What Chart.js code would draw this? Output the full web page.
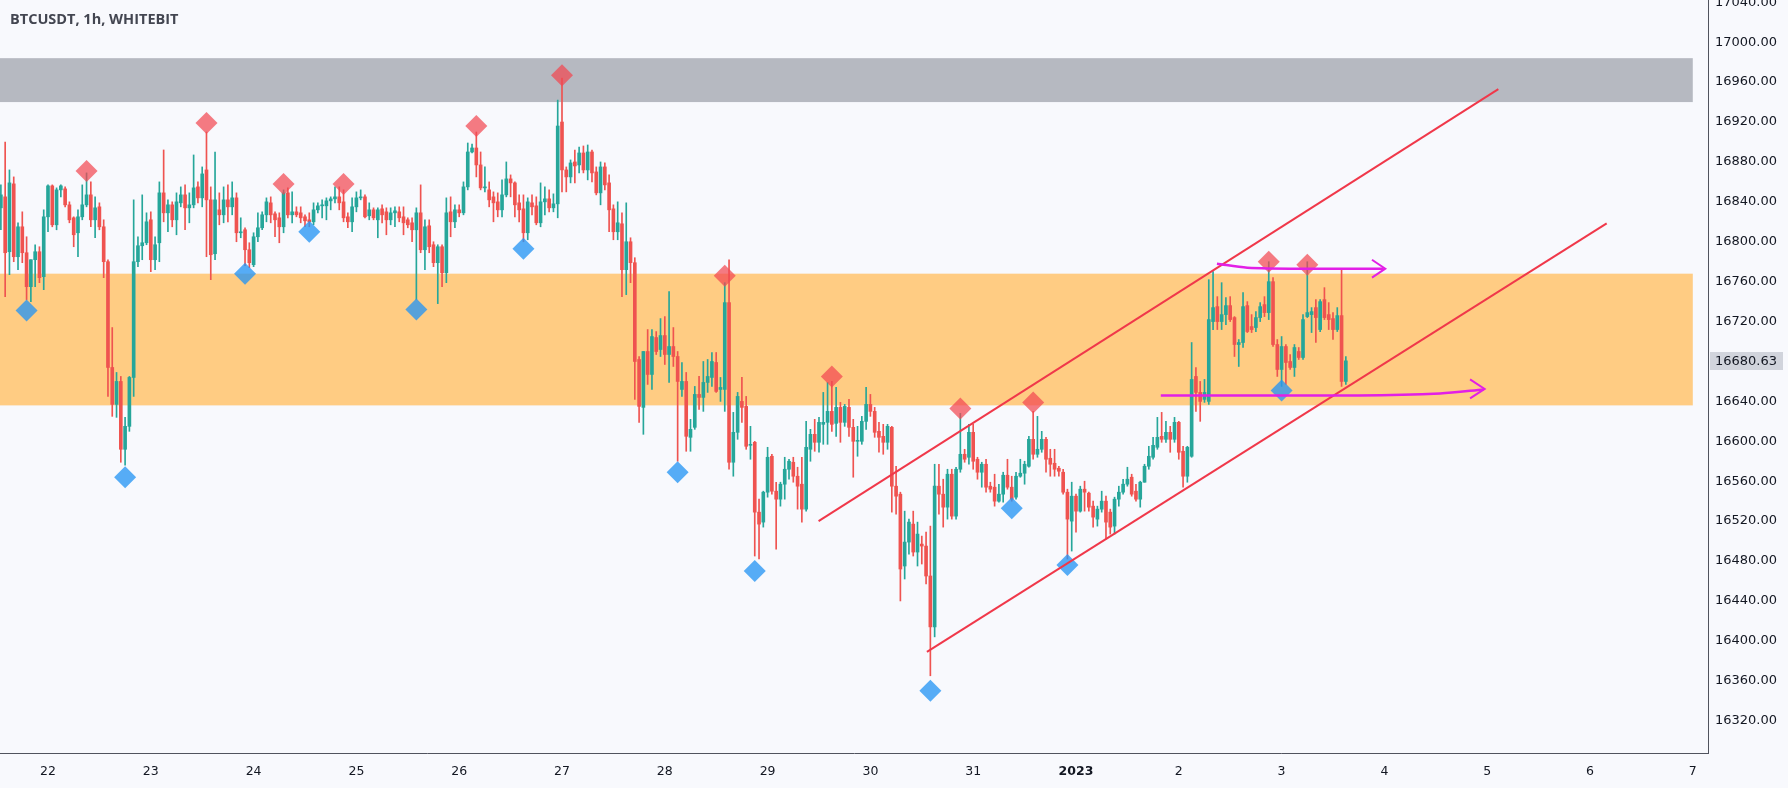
<!DOCTYPE html>
<html>
<head>
<meta charset="utf-8">
<title>BTCUSDT 1h</title>
<script src="https://cdn.jsdelivr.net/npm/chart.js@4.4.0/dist/chart.umd.min.js"></script>
<style>
  html, body { margin: 0; padding: 0; background: #f8f9fd; }
  #wrap { position: relative; width: 1788px; height: 788px; }
  #title {
    position: absolute; left: 10px; top: 9px;
    font: 700 14.5px 'Open Sans', sans-serif; color: #434651;
  }
</style>
</head>
<body>
<div id="wrap">
  <canvas id="chart" width="1788" height="788"></canvas>
  <div id="title">BTCUSDT, 1h, WHITEBIT</div>
</div>
<script>
// ─── Data (hour index 0 = 22 Dec 00:00) ──────────────────────
const firstHour = -11;

const opens = [
  16834,16845,16790,16858,16785,16815,16789,16755,16782,16790,16765,
  16825,16856,16817,16852,16853,16837,16824,16809,16825,16837,16847,16822,16835,16815,16780,16674,16637,16660,16592,16615,16664,16780,16796,16799,
  16822,16782,16799,16849,16829,16837,16822,16839,16847,16834,16837,16855,16844,16872,16842,16788,16832,16827,16842,16835,16844,16809,16812,16792,
  16777,16805,16814,16827,16839,16828,16824,16815,16849,16827,16830,16829,16825,16822,16820,16832,16836,16836,16841,16843,16845,16840,16825,16820,
  16835,16844,16845,16826,16832,16822,16833,16830,16822,16829,16830,16825,16822,16819,16812,16829,16792,16816,16797,16779,16795,16769,16830,16820,
  16832,16829,16855,16890,16894,16877,16854,16852,16845,16840,16832,16847,16863,16859,16839,16833,16809,16839,16836,16819,16840,16843,16834,16838,
  16920,16872,16865,16880,16877,16889,16872,16890,16870,16849,16875,16859,16833,16810,16818,16772,16800,16779,16682,16634,16690,16667,16704,16692,
  16706,16687,16695,16685,16652,16660,16604,16614,16647,16644,16659,16664,16679,16652,16652,16739,16579,16609,16640,16635,16596,16599,16529,16519,
  16549,16585,16550,16542,16557,16572,16579,16565,16557,16532,16592,16607,16599,16617,16619,16630,16618,16634,16619,16634,16614,16600,16600,16620,
  16637,16630,16610,16605,16599,16614,16555,16547,16475,16499,16517,16489,16497,16495,16465,16414,16555,16547,16534,16567,16525,16572,16587,16584,
  16609,16582,16569,16577,16555,16554,16540,16547,16566,16554,16544,16565,16568,16575,16602,16587,16592,16602,16583,16578,16573,16569,16549,16520,
  16545,16530,16552,16548,16535,16522,16532,16540,16529,16515,16542,16549,16557,16564,16550,16542,16559,16575,16584,16594,16605,16602,16609,16602,
  16619,16590,16565,16585,16665,16649,16642,16640,16720,16735,16720,16727,16736,16724,16697,16699,16736,16715,16714,16724,16737,16729,16760,16697,
  16672,16695,16680,16674,16690,16684,16725,16727,16734,16712,16742,16727,16723,16712,16726,16660
];
const highs = [
  16857,16900,16872,16865,16819,16830,16805,16782,16797,16795,16832,
  16857,16857,16854,16857,16855,16840,16825,16832,16857,16869,16860,16845,16839,16822,16782,16714,16669,16665,16624,16665,16842,16805,16847,16829,
  16830,16805,16860,16892,16842,16840,16849,16855,16857,16849,16887,16860,16875,16910,16855,16890,16849,16855,16857,16860,16849,16824,16814,16799,
  16809,16829,16830,16844,16845,16830,16829,16852,16854,16850,16835,16835,16827,16829,16839,16839,16842,16844,16845,16855,16855,16852,16829,16844,
  16850,16852,16847,16839,16834,16834,16837,16834,16834,16835,16835,16835,16824,16824,16834,16857,16822,16822,16800,16797,16797,16844,16845,16837,
  16837,16860,16899,16898,16910,16890,16875,16860,16850,16849,16862,16880,16867,16860,16847,16847,16844,16847,16845,16859,16855,16852,16848,16942,
  16964,16875,16882,16892,16895,16896,16897,16892,16875,16880,16879,16867,16837,16840,16829,16839,16804,16784,16685,16690,16712,16712,16710,16723,
  16725,16750,16714,16690,16679,16669,16622,16655,16665,16680,16682,16689,16689,16664,16759,16782,16629,16649,16664,16645,16615,16600,16542,16550,
  16594,16587,16559,16559,16584,16582,16584,16574,16584,16620,16612,16622,16624,16649,16659,16660,16654,16639,16637,16642,16622,16615,16625,16654,
  16647,16634,16619,16617,16617,16615,16575,16549,16530,16522,16530,16519,16505,16509,16515,16577,16577,16562,16572,16572,16574,16628,16592,16617,
  16617,16584,16579,16582,16559,16567,16557,16569,16582,16565,16569,16582,16580,16605,16630,16625,16610,16604,16592,16592,16575,16572,16552,16559,
  16547,16555,16560,16549,16540,16535,16550,16545,16532,16544,16555,16562,16574,16567,16557,16560,16577,16595,16604,16624,16629,16620,16615,16624,
  16620,16595,16595,16699,16674,16660,16662,16762,16770,16745,16759,16744,16745,16725,16702,16749,16740,16727,16730,16739,16745,16780,16764,16702,
  16705,16697,16687,16697,16694,16727,16780,16734,16742,16742,16754,16739,16729,16734,16772,16685
];
const lows = [
  16812,16745,16767,16780,16772,16779,16742,16740,16755,16759,16752,
  16810,16815,16812,16845,16835,16819,16795,16785,16822,16835,16815,16804,16812,16764,16645,16625,16624,16579,16576,16610,16645,16775,16782,16797,
  16770,16772,16780,16820,16810,16815,16807,16835,16812,16819,16834,16839,16835,16785,16762,16782,16817,16819,16820,16827,16800,16804,16776,16774,
  16775,16800,16812,16820,16819,16805,16799,16809,16824,16819,16825,16819,16815,16815,16817,16829,16824,16822,16832,16839,16832,16820,16814,16810,
  16830,16842,16824,16822,16822,16804,16819,16807,16817,16815,16820,16807,16814,16800,16742,16789,16772,16789,16775,16738,16755,16759,16805,16814,
  16825,16827,16852,16889,16865,16852,16850,16835,16820,16825,16825,16845,16845,16825,16820,16800,16802,16827,16817,16815,16827,16830,16830,16824,
  16850,16850,16859,16859,16869,16869,16862,16860,16847,16837,16852,16810,16802,16802,16745,16747,16759,16642,16619,16607,16657,16652,16687,16685,
  16677,16659,16675,16580,16645,16590,16590,16612,16632,16630,16649,16655,16649,16640,16630,16572,16565,16602,16619,16592,16582,16485,16482,16514,
  16544,16547,16492,16535,16542,16562,16559,16532,16519,16530,16580,16590,16589,16597,16597,16610,16605,16599,16615,16605,16564,16585,16597,16612,
  16625,16604,16589,16587,16592,16529,16527,16440,16462,16487,16485,16475,16477,16457,16365,16404,16527,16514,16522,16522,16522,16569,16579,16577,
  16572,16562,16554,16549,16549,16535,16539,16539,16552,16540,16542,16564,16557,16574,16582,16584,16589,16569,16565,16565,16565,16547,16482,16490,
  16509,16529,16530,16530,16514,16515,16529,16502,16507,16507,16535,16547,16555,16545,16540,16534,16559,16572,16582,16592,16599,16599,16589,16599,
  16582,16554,16559,16584,16630,16620,16639,16637,16712,16712,16712,16717,16720,16685,16675,16694,16709,16709,16710,16720,16725,16722,16695,16665,
  16655,16657,16672,16665,16682,16682,16724,16709,16699,16710,16722,16712,16702,16710,16655,16657
];
const closes = [
  16847,16789,16859,16785,16815,16789,16755,16782,16790,16764,16825,
  16856,16817,16852,16856,16837,16822,16807,16825,16837,16847,16822,16834,16815,16780,16674,16637,16660,16592,16615,16664,16780,16796,16799,16820,
  16782,16797,16849,16829,16837,16822,16840,16847,16834,16837,16854,16844,16868,16842,16787,16842,16827,16842,16835,16844,16809,16810,16792,16779,
  16805,16814,16827,16840,16827,16822,16815,16849,16827,16830,16827,16824,16821,16820,16832,16836,16837,16841,16843,16845,16839,16824,16820,16835,
  16844,16845,16825,16832,16824,16832,16827,16822,16829,16831,16824,16819,16817,16812,16829,16792,16815,16795,16779,16795,16769,16829,16820,16832,
  16829,16855,16890,16894,16877,16854,16855,16842,16839,16832,16847,16863,16859,16837,16832,16809,16840,16835,16819,16840,16843,16834,16838,16916,
  16872,16865,16879,16876,16889,16872,16890,16869,16849,16875,16857,16832,16810,16819,16772,16800,16779,16680,16635,16690,16667,16705,16690,16706,
  16687,16695,16685,16660,16660,16605,16612,16647,16644,16659,16665,16680,16650,16654,16739,16579,16609,16645,16634,16595,16597,16529,16517,16549,
  16584,16550,16542,16557,16572,16580,16565,16555,16532,16594,16607,16599,16619,16619,16630,16617,16634,16619,16635,16614,16600,16601,16620,16637,
  16630,16609,16604,16599,16615,16555,16545,16472,16499,16519,16489,16507,16495,16465,16414,16555,16547,16534,16567,16525,16572,16587,16582,16609,
  16580,16569,16577,16554,16552,16540,16547,16566,16554,16542,16565,16568,16577,16602,16587,16592,16602,16582,16577,16572,16570,16549,16522,16545,
  16530,16552,16549,16534,16524,16532,16540,16519,16514,16542,16549,16557,16562,16547,16542,16559,16575,16585,16596,16604,16602,16609,16602,16619,
  16589,16565,16594,16662,16649,16640,16649,16722,16734,16720,16727,16736,16722,16697,16699,16735,16710,16712,16724,16735,16729,16760,16697,16672,
  16695,16679,16674,16694,16684,16722,16729,16730,16724,16740,16724,16722,16712,16726,16660,16680.63
];

// pivot markers
const pivotHighHours  = [9, 37, 55, 69, 100, 120, 158, 183, 213, 230, 285, 294];
const pivotHighPrices = [16871, 16919, 16858, 16858, 16916, 16967, 16766, 16665, 16633, 16639, 16780, 16777];
const pivotLowHours   = [-5, 18, 46, 61, 86, 111, 147, 165, 206, 225, 238, 288];
const pivotLowPrices  = [16731, 16564, 16768, 16810, 16732, 16793, 16569, 16470, 16350, 16533, 16476, 16651];

// zones
const zoneLows  = [16940, 16636];
const zoneHighs = [16984, 16768];
const zoneFromHour = -12;
const zoneToHour = 384;

// drawn lines
const channelTopHours    = [179.9, 338.6];
const channelTopPrices   = [16520, 16953];
const channelBottomHours = [205.2, 363.9];
const channelBottomPrices= [16389, 16818.5];
const rangeTopHours      = [272.9, 280, 295, 311.8];
const rangeTopPrices     = [16778, 16774, 16773, 16773];
const rangeTopArrowHours = [309.1, 312.2, 309.1];
const rangeTopArrowPrices= [16782, 16773, 16764];
const rangeBotHours      = [259.8, 306, 325, 335.2];
const rangeBotPrices     = [16646, 16646, 16648, 16652];
const rangeBotArrowHours = [332, 335.4, 332];
const rangeBotArrowPrices= [16662, 16652.5, 16643];

// axes
const dayHours  = [0, 24, 48, 72, 96, 120, 144, 168, 192, 216, 240, 264, 288, 312, 336, 360, 384];
const dayLabels = ['22','23','24','25','26','27','28','29','30','31','2023','2','3','4','5','6','7'];
const priceTicks = [16320,16360,16400,16440,16480,16520,16560,16600,16640,16680,16720,16760,16800,16840,16880,16920,16960,17000,17040];
const X_MIN = -11.206, X_MAX = 387.55;
const Y_MIN = 16287.6, Y_MAX = 17042.3;

// ─── Styles ──────────────────────────────────────────────
const UP = '#26a69a', DOWN = '#ef5350';
const AXIS_COLOR = '#50535e';
const TEXT_COLOR = '#131722';
const FONT = "'DejaVu Sans', Verdana, sans-serif";
const ZONE_COLORS = ['rgba(178,181,190,0.95)', 'rgba(255,200,120,0.92)'];

const hours = opens.map((_, i) => firstHour + i);
const isUp = opens.map((o, i) => closes[i] >= o);
const candleColors = isUp.map(u => u ? UP : DOWN);
const toPts = (hs, ps) => hs.map((h, i) => ({ x: h, y: ps[i] }));

const zonesPlugin = {
  id: 'zones',
  beforeDatasetsDraw(chart) {
    const { ctx, chartArea: a, scales: { x, y } } = chart;
    ctx.save();
    ctx.beginPath();
    ctx.rect(a.left, a.top, a.width, a.height);
    ctx.clip();
    zoneLows.forEach((lo, i) => {
      const x0 = x.getPixelForValue(zoneFromHour), x1 = x.getPixelForValue(zoneToHour);
      const y0 = y.getPixelForValue(zoneHighs[i]), y1 = y.getPixelForValue(lo);
      ctx.fillStyle = ZONE_COLORS[i];
      ctx.fillRect(x0, y0, x1 - x0, y1 - y0);
    });
    ctx.restore();
  }
};

const priceTagPlugin = {
  id: 'priceTag',
  afterDraw(chart) {
    const { ctx, scales: { y } } = chart;
    const last = closes[closes.length - 1];
    const py = Math.round(y.getPixelForValue(last));
    ctx.save();
    ctx.fillStyle = '#d1d4dc';
    ctx.fillRect(y.left + 2, py - 9, 73, 18);
    ctx.fillStyle = TEXT_COLOR;
    ctx.font = '13px ' + FONT;
    ctx.textBaseline = 'middle';
    ctx.textAlign = 'left';
    ctx.fillText(last.toFixed(2), y.left + 7, py + 0.5);
    ctx.restore();
  }
};

const lineDs = (hs, ps, color, width, tension, order) => ({
  type: 'line',
  data: toPts(hs, ps),
  borderColor: color,
  borderWidth: width,
  pointRadius: 0,
  fill: false,
  tension,
  order,
});

new Chart(document.getElementById('chart'), {
  type: 'bar',
  data: {
    datasets: [
      {
        label: 'wick',
        data: hours.map((h, i) => ({ x: h, y: [lows[i], highs[i]] })),
        backgroundColor: candleColors,
        barThickness: 1,
        grouped: false,
        order: 6,
      },
      {
        label: 'body',
        data: hours.map((h, i) => ({ x: h, y: [Math.min(opens[i], closes[i]), Math.max(opens[i], closes[i])] })),
        backgroundColor: candleColors,
        barThickness: 3,
        minBarLength: 1,
        grouped: false,
        order: 5,
      },
      {
        type: 'scatter',
        data: toPts(pivotHighHours, pivotHighPrices),
        pointStyle: 'rectRot',
        pointRadius: 11,
        backgroundColor: 'rgba(242,72,82,0.72)',
        borderWidth: 0,
        order: 4,
      },
      {
        type: 'scatter',
        data: toPts(pivotLowHours, pivotLowPrices),
        pointStyle: 'rectRot',
        pointRadius: 11,
        backgroundColor: 'rgba(40,150,243,0.78)',
        borderWidth: 0,
        order: 3,
      },
      lineDs(channelTopHours, channelTopPrices, '#f0384a', 2, 0, 2),
      lineDs(channelBottomHours, channelBottomPrices, '#f0384a', 2, 0, 2),
      lineDs(rangeTopHours, rangeTopPrices, '#e21fe6', 2.5, 0.3, 1),
      lineDs(rangeTopArrowHours, rangeTopArrowPrices, '#e21fe6', 2, 0, 1),
      lineDs(rangeBotHours, rangeBotPrices, '#e21fe6', 2.5, 0.3, 1),
      lineDs(rangeBotArrowHours, rangeBotArrowPrices, '#e21fe6', 2, 0, 1),
    ],
  },
  options: {
    responsive: false,
    animation: false,
    devicePixelRatio: 1,
    events: [],
    layout: { padding: 0, autoPadding: false },
    plugins: { legend: { display: false }, tooltip: { enabled: false } },
    scales: {
      x: {
        type: 'linear',
        offset: false,
        min: X_MIN,
        max: X_MAX,
        grid: { display: false, drawTicks: false, offset: false },
        border: { display: true, color: AXIS_COLOR, width: 1 },
        afterBuildTicks: s => { s.ticks = dayHours.map(v => ({ value: v })); },
        afterFit: s => { s.height = 35; s.paddingLeft = 0; s.paddingRight = 0; },
        ticks: {
          autoSkip: false,
          maxRotation: 0,
          padding: 11,
          color: TEXT_COLOR,
          font: c => ({ family: FONT, size: 12.5, weight: dayLabels[c.index] === '2023' ? 'bold' : 'normal' }),
          callback: (v, i) => dayLabels[i],
        },
      },
      y: {
        position: 'right',
        min: Y_MIN,
        max: Y_MAX,
        grid: { display: false, drawTicks: false },
        border: { display: true, color: AXIS_COLOR, width: 1 },
        afterBuildTicks: s => { s.ticks = priceTicks.map(v => ({ value: v })); },
        afterFit: s => { s.width = 80; s.paddingTop = 0; s.paddingBottom = 0; },
        ticks: {
          padding: 7,
          color: TEXT_COLOR,
          font: { family: FONT, size: 13 },
          callback: v => v.toFixed(2),
        },
      },
    },
  },
  plugins: [zonesPlugin, priceTagPlugin],
});
</script>
</body>
</html>
